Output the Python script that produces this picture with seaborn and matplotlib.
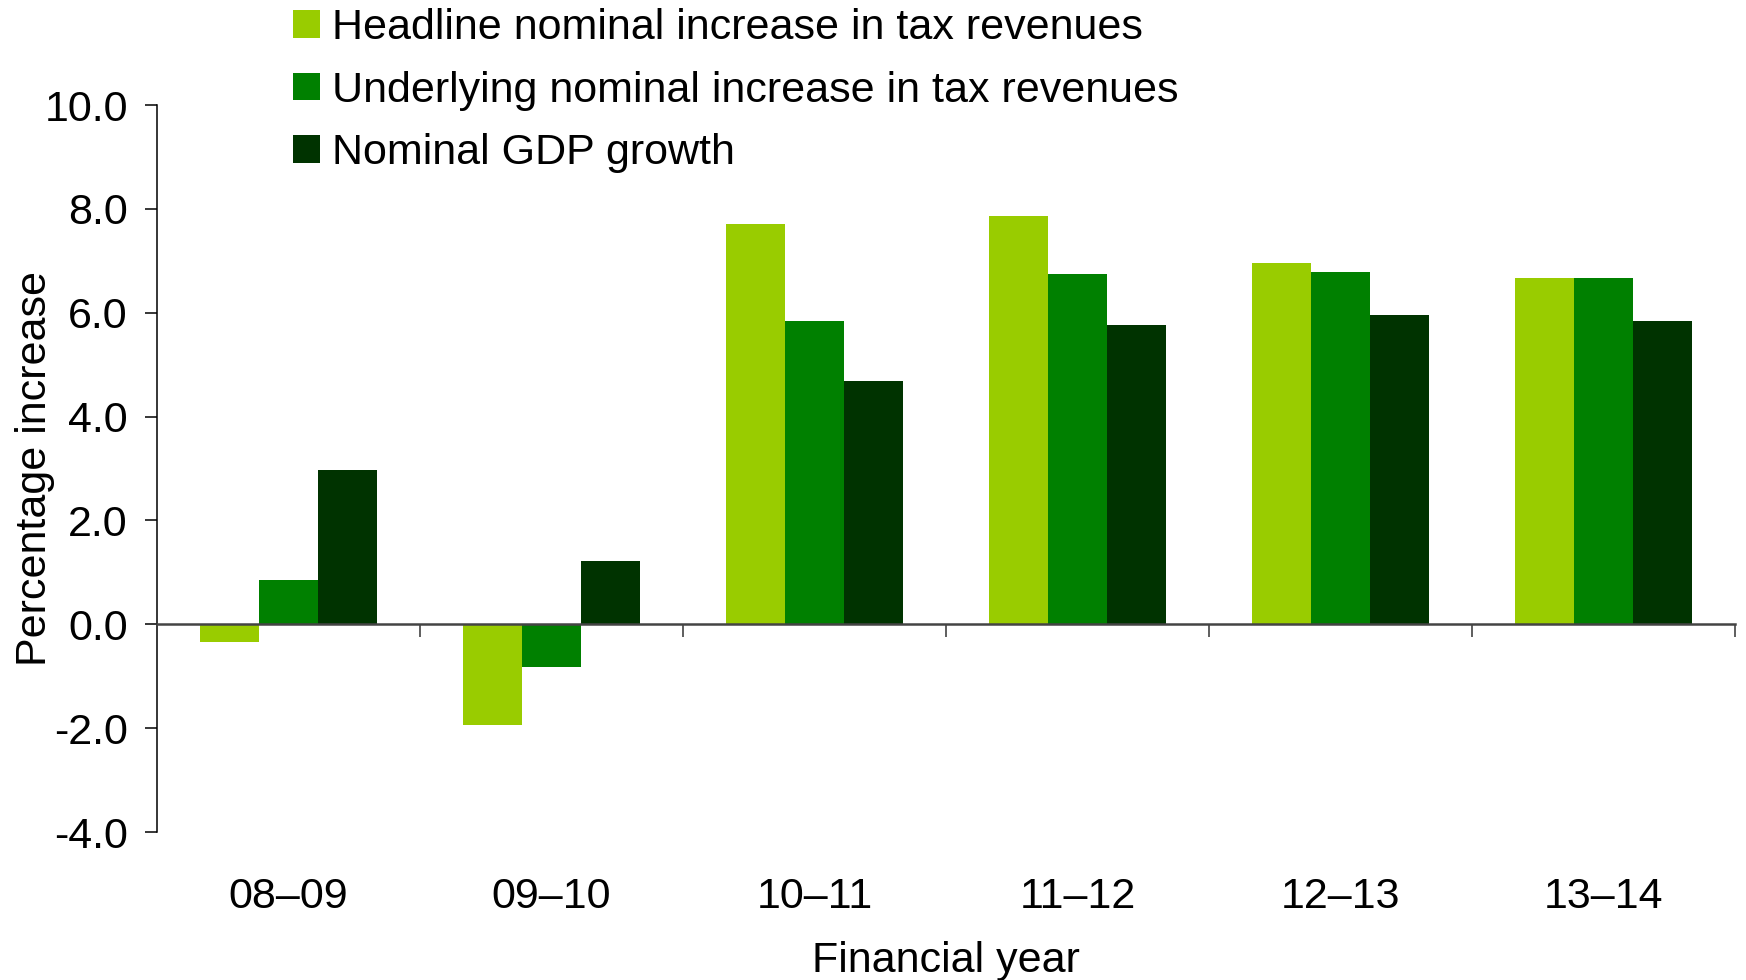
import pandas as pd
import seaborn as sns
import matplotlib.pyplot as plt
from matplotlib.ticker import FixedLocator, FormatStrFormatter

years = ["08–09", "09–10", "10–11", "11–12", "12–13", "13–14"]
headline = [-0.34, -1.94, 7.71, 7.87, 6.96, 6.67]
underlying = [0.85, -0.82, 5.85, 6.75, 6.79, 6.67]
gdp = [2.98, 1.21, 4.69, 5.77, 5.96, 5.85]
series = ["Headline nominal increase in tax revenues",
          "Underlying nominal increase in tax revenues",
          "Nominal GDP growth"]
colors = ["#99CC00", "#008000", "#003300"]
yticks = [-4, -2, 0, 2, 4, 6, 8, 10]

df = pd.DataFrame({
    "year": years * 3,
    "value": headline + underlying + gdp,
    "series": [series[0]] * 6 + [series[1]] * 6 + [series[2]] * 6,
})

sns.set_style("white")
plt.rcParams["font.family"] = ["Liberation Sans", "DejaVu Sans"]
plt.rcParams["text.color"] = "black"
plt.rcParams["axes.labelcolor"] = "black"
plt.rcParams["xtick.color"] = "black"
plt.rcParams["ytick.color"] = "black"
fs = 31

fig = plt.figure(figsize=(17.46, 9.8), dpi=100)
ax = fig.add_axes([157 / 1746, 1 - 832 / 980, 1578 / 1746, 727 / 980])

sns.barplot(data=df, x="year", y="value", hue="series", hue_order=series,
            palette=colors, width=0.67, linewidth=0, saturation=1, ax=ax)

ax.set_xlim(-0.5, 5.5)
ax.set_ylim(-4, 10)
ax.set_yticks(yticks)
ax.yaxis.set_major_formatter(FormatStrFormatter("%.1f"))

for s in ["top", "right"]:
    ax.spines[s].set_visible(False)
ax.spines["left"].set_color("black")
ax.spines["left"].set_linewidth(1.1)
ax.spines["bottom"].set_position(("data", 0))
ax.spines["bottom"].set_color("#444444")
ax.spines["bottom"].set_linewidth(1.8)
ax.spines["bottom"].set_zorder(3)

ax.xaxis.set_minor_locator(FixedLocator([0.5, 1.5, 2.5, 3.5, 4.5, 5.5]))
ax.tick_params(axis="x", which="major", bottom=True, length=0, pad=182,
               labelsize=fs, labelcolor="black")
ax.tick_params(axis="x", which="minor", bottom=True, direction="out", length=9,
               width=1.1, color="#333333")
ax.tick_params(axis="y", which="major", left=True, direction="out", length=9,
               width=1.1, pad=12, labelsize=fs, color="black", labelcolor="black")

ax.set_xlabel("Financial year", fontsize=fs, labelpad=17, color="black")
ax.set_ylabel("Percentage increase", fontsize=fs, color="black")
ax.yaxis.set_label_coords(-0.0646, 0.5)

handles, labels = ax.get_legend_handles_labels()
ax.get_legend().remove()
fig.legend(handles, labels, loc="upper left", bbox_to_anchor=(0.168, 0.992),
           frameon=False, fontsize=fs, borderpad=0, borderaxespad=0,
           labelspacing=0.53, handlelength=0.62, handleheight=0.62,
           handletextpad=0.28, labelcolor="black")

fig.savefig("out.png", dpi=100)
